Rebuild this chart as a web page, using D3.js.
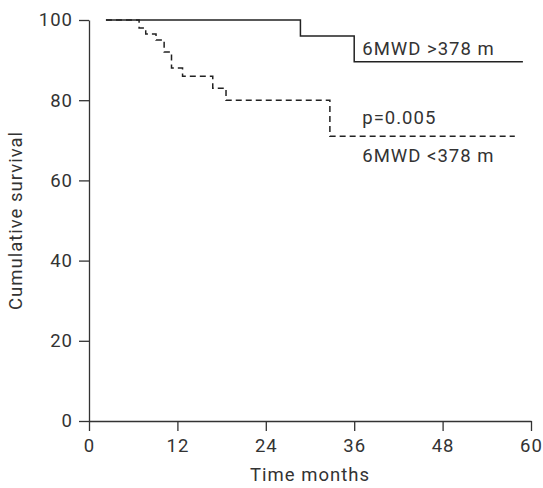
<!DOCTYPE html>
<html>
<head>
<meta charset="utf-8">
<script src="https://cdn.jsdelivr.net/npm/d3@7"></script>
<style>
  body { margin: 0; background: #fff; }
  svg { display: block; }
  text { font-family: Roboto, "DejaVu Sans", sans-serif; fill: #333; letter-spacing: 1px; }
</style>
</head>
<body>
<svg id="chart" width="543" height="488"></svg>
<script>
// survival data (months, cumulative survival %)
const highMonths = [2.3, 28.7, 36.0, 58.9];
const highValues = [100, 96, 89.6, 89.6];

const lowMonths = [2.3, 6.8, 7.7, 9.1, 10.2, 11.2, 12.7, 16.8, 18.6, 32.7, 57.8];
const lowValues = [100, 98, 96.5, 95, 92, 88, 86, 83, 80, 71, 71];

const xTicks = [0, 12, 24, 36, 48, 60];
const yTicks = [0, 20, 40, 60, 80, 100];

const svg = d3.select("#chart");
const margin = { left: 89, right: 12, top: 20, bottom: 67 };
const width = 543 - margin.left - margin.right;
const height = 488 - margin.top - margin.bottom;
const fs = 18.5;

const g = svg.append("g").attr("transform", `translate(${margin.left},${margin.top})`);

const x = d3.scaleLinear().domain([0, 60]).range([0, width]);
const y = d3.scaleLinear().domain([0, 100]).range([height, 0]);

// axes
const xAxis = g.append("g")
    .attr("transform", `translate(0,${height})`)
    .call(d3.axisBottom(x).tickValues(xTicks).tickSize(10).tickSizeOuter(0).tickPadding(8));
const yAxis = g.append("g")
    .call(d3.axisLeft(y).tickValues(yTicks).tickSize(10).tickSizeOuter(0).tickPadding(6));

[xAxis, yAxis].forEach(a => {
    a.selectAll("path, line").attr("stroke", "#333").attr("stroke-width", 1.3);
    a.selectAll("text").attr("font-size", fs).attr("fill", "#333");
});

// curves
const line = d3.line()
    .x(d => x(d[0]))
    .y(d => y(d[1]))
    .curve(d3.curveStepAfter);

g.append("path")
    .datum(d3.zip(highMonths, highValues))
    .attr("d", line)
    .attr("fill", "none")
    .attr("stroke", "#222")
    .attr("stroke-width", 1.5);

g.append("path")
    .datum(d3.zip(lowMonths, lowValues))
    .attr("d", line)
    .attr("fill", "none")
    .attr("stroke", "#222")
    .attr("stroke-width", 1.5)
    .attr("stroke-dasharray", "6,4");

// labels
const labels = [
    { text: "6MWD >378 m", v: 91.3 },
    { text: "p=0.005", v: 74.1 },
    { text: "6MWD <378 m", v: 64.7 }
];
g.selectAll(".lbl")
    .data(labels)
    .join("text")
    .attr("class", "lbl")
    .attr("x", x(37.1))
    .attr("y", d => y(d.v))
    .attr("font-size", fs)
    .text(d => d.text);

// axis titles
svg.append("text")
    .attr("x", margin.left + width / 2)
    .attr("y", 481)
    .attr("text-anchor", "middle")
    .attr("font-size", fs)
    .text("Time months");

svg.append("text")
    .attr("transform", `translate(22,${margin.top + height / 2}) rotate(-90)`)
    .attr("text-anchor", "middle")
    .attr("font-size", fs)
    .text("Cumulative survival");
</script>
</body>
</html>
